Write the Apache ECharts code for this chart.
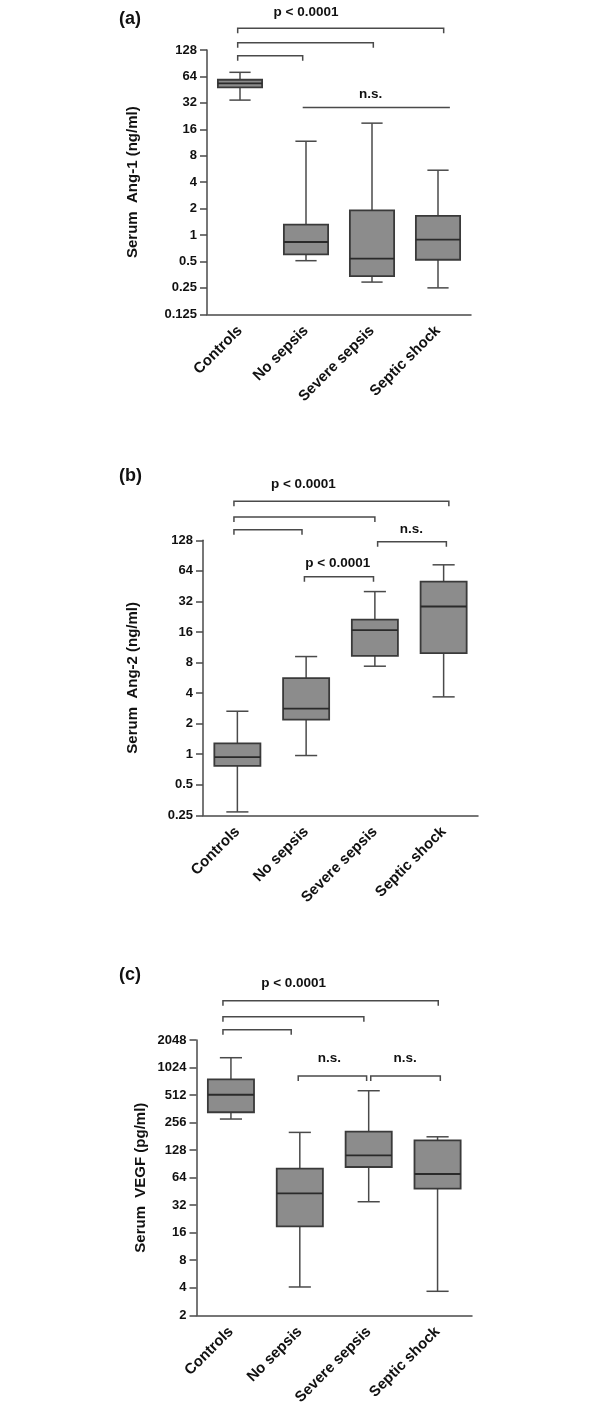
<!DOCTYPE html>
<html><head><meta charset="utf-8">
<script src="https://cdn.jsdelivr.net/npm/echarts@6/dist/echarts.min.js"></script>
<style>html,body{margin:0;padding:0;background:#fff}#c{width:600px;height:1412px}</style>
</head><body><div id="c"></div><script>
// ---- data ----
const categories = ['Controls', 'No sepsis', 'Severe sepsis', 'Septic shock'];
// [min, Q1, median, Q3, max]
const ang1Stats = [[34.4, 48.1, 53.4, 58.7, 71.3], [0.51, 0.603, 0.832, 1.31, 11.7], [0.291, 0.34, 0.537, 1.91, 18.8], [0.25, 0.523, 0.884, 1.65, 5.47]];
const ang2Stats = [[0.27, 0.767, 0.934, 1.28, 2.65], [0.97, 2.19, 2.81, 5.61, 9.16], [7.36, 9.3, 16.7, 21.2, 40], [3.67, 9.89, 28.5, 50.2, 73.4]];
const vegfStats = [[280, 332, 516, 761, 1311], [4.08, 18.8, 43.1, 80.2, 200], [34.9, 83.7, 112, 204, 571], [3.66, 48.5, 70.2, 164, 179]];
// significance brackets: [from (category units), to (category units), level (axis value), hasLegs]
const ang1Brackets = [[-0.035, 3.086, 226, 1], [-0.035, 2.02, 155, 1], [-0.035, 0.95, 110, 1], [0.95, 3.18, 28.4, 0]];
const ang2Brackets = [[-0.05, 3.076, 310, 1], [-0.05, 2.0, 217, 1], [-0.05, 0.94, 163, 1], [2.04, 3.04, 124, 1], [0.975, 1.98, 56, 1]];
const vegfBrackets = [[-0.116, 3.01, 5513, 1], [-0.116, 1.93, 3680, 1], [-0.116, 0.875, 2657, 1], [0.977, 1.97, 827, 1], [2.03, 3.04, 827, 1]];
// annotation labels: [x (category units), level (axis value), text]
const ang1Labels = [[1.0, 344, 'p < 0.0001'], [1.98, 40, 'n.s.']];
const ang2Labels = [[0.96, 459, 'p < 0.0001'], [2.53, 164, 'n.s.'], [1.46, 75.8, 'p < 0.0001']];
const vegfLabels = [[0.91, 8539, 'p < 0.0001'], [1.43, 1291, 'n.s.'], [2.53, 1291, 'n.s.']];
const ang1Ticks = [0.125, 128];
const ang2Ticks = [0.25, 128];
const vegfTicks = [2, 2048];
const panelLetters = ['(a)', '(b)', '(c)'];
const yTitles = ['Serum  Ang-1 (ng/ml)', 'Serum  Ang-2 (ng/ml)', 'Serum  VEGF (pg/ml)'];

// ---- style ----
const FONT = '"Liberation Sans", Arial, Helvetica, sans-serif';
const LINE = '#4a4a4a';
const BOXFILL = '#8c8c8c';
const TXT = '#111';

const chart = echarts.init(document.getElementById('c'), null, { renderer: 'canvas' });

function boxRender(params, api) {
  const c = api.value(0);
  const v = [1, 2, 3, 4, 5].map(i => api.value(i));
  const band = api.size([1, 0])[0];
  const bw = band * 0.67;
  const cw = bw * 0.48;
  const x = api.coord([c, v[2]])[0];
  const y = v.map(val => api.coord([c, val])[1]);
  const ls = { stroke: LINE, lineWidth: 1.5 };
  return {
    type: 'group',
    children: [
      { type: 'line', shape: { x1: x, y1: y[4], x2: x, y2: y[3] }, style: ls },
      { type: 'line', shape: { x1: x, y1: y[0], x2: x, y2: y[1] }, style: ls },
      { type: 'line', shape: { x1: x - cw / 2, y1: y[4], x2: x + cw / 2, y2: y[4] }, style: ls },
      { type: 'line', shape: { x1: x - cw / 2, y1: y[0], x2: x + cw / 2, y2: y[0] }, style: ls },
      { type: 'rect', shape: { x: x - bw / 2, y: y[3], width: bw, height: y[1] - y[3] }, style: { fill: BOXFILL, stroke: '#3a3a3a', lineWidth: 1.8 } },
      { type: 'line', shape: { x1: x - bw / 2, y1: y[2], x2: x + bw / 2, y2: y[2] }, style: { stroke: '#2a2a2a', lineWidth: 1.8 } }
    ]
  };
}

function bracketRender(params, api) {
  const x1 = api.value(1), x2 = api.value(2), lv = api.value(3), legs = api.value(4);
  const base = api.coord([0, lv]);
  const band = api.size([1, 0])[0];
  const px1 = base[0] + x1 * band, px2 = base[0] + x2 * band, py = base[1];
  const leg = legs ? 5 : 0;
  return {
    type: 'polyline',
    shape: { points: legs ? [[px1, py + leg], [px1, py], [px2, py], [px2, py + leg]] : [[px1, py], [px2, py]] },
    style: { stroke: LINE, lineWidth: 1.5, fill: null }
  };
}

function makeLabelRender(labels) {
  return function (params, api) {
    const xf = api.value(1), lv = api.value(2);
    const base = api.coord([0, lv]);
    const band = api.size([1, 0])[0];
    return {
      type: 'text',
      x: base[0] + xf * band,
      y: base[1],
      style: { text: labels[params.dataIndex][2], align: 'center', verticalAlign: 'middle', fill: TXT, font: 'bold 13.5px ' + FONT }
    };
  };
}

const panels = [
  { grid: { left: 207, width: 264, top: 50, height: 264.3 }, ticks: ang1Ticks, stats: ang1Stats, brackets: ang1Brackets, labels: ang1Labels, nameGap: 67, titleTop: 10 },
  { grid: { left: 203, width: 275, top: 540.3, height: 275 }, ticks: ang2Ticks, stats: ang2Stats, brackets: ang2Brackets, labels: ang2Labels, nameGap: 63, titleTop: 467.5 },
  { grid: { left: 196.5, width: 275.5, top: 1040, height: 275.3 }, ticks: vegfTicks, stats: vegfStats, brackets: vegfBrackets, labels: vegfLabels, nameGap: 48, titleTop: 966.5 }
];

const option = {
  animation: false,
  backgroundColor: '#fff',
  title: panels.map((p, i) => ({ text: panelLetters[i], left: 119, top: p.titleTop, padding: 0, textStyle: { fontFamily: FONT, fontWeight: 'bold', fontSize: 18, color: TXT } })),
  grid: panels.map(p => p.grid),
  xAxis: panels.map((p, i) => ({
    type: 'category', gridIndex: i, data: categories,
    axisLine: { lineStyle: { color: LINE, width: 1.5 } },
    axisTick: { alignWithLabel: true, length: 5, lineStyle: { color: LINE, width: 1.5 } },
    axisLabel: { rotate: 45, margin: 14, interval: 0, fontFamily: FONT, fontWeight: 'bold', fontSize: 15, color: TXT },
    splitLine: { show: false }
  })),
  yAxis: panels.map((p, i) => ({
    type: 'log', logBase: 2, gridIndex: i, min: p.ticks[0], max: p.ticks[1], interval: 1,
    name: yTitles[i], nameLocation: 'middle', nameGap: p.nameGap,
    nameTextStyle: { fontFamily: FONT, fontWeight: 'bold', fontSize: 15, color: TXT },
    axisLine: { show: true, lineStyle: { color: LINE, width: 1.5 } },
    axisTick: { show: true, length: 7, lineStyle: { color: LINE, width: 1.5 } },
    axisLabel: { margin: 10, fontFamily: FONT, fontWeight: 'bold', fontSize: 13, color: TXT, formatter: v => String(+(+v).toPrecision(6)) },
    splitLine: { show: false }
  })),
  series: []
};

panels.forEach((p, i) => {
  option.series.push({
    type: 'custom', xAxisIndex: i, yAxisIndex: i, renderItem: boxRender,
    data: p.stats.map((s, k) => [k].concat(s)), encode: { x: 0, y: [1, 2, 3, 4, 5] }
  });
  option.series.push({
    type: 'custom', xAxisIndex: i, yAxisIndex: i, renderItem: bracketRender, clip: false,
    data: p.brackets.map(b => [0].concat(b)), encode: { x: 0, y: 3 }
  });
  option.series.push({
    type: 'custom', xAxisIndex: i, yAxisIndex: i, renderItem: makeLabelRender(p.labels), clip: false,
    data: p.labels.map(l => [0, l[0], l[1]]), encode: { x: 0, y: 2 }
  });
});

chart.setOption(option);
</script></body></html>
